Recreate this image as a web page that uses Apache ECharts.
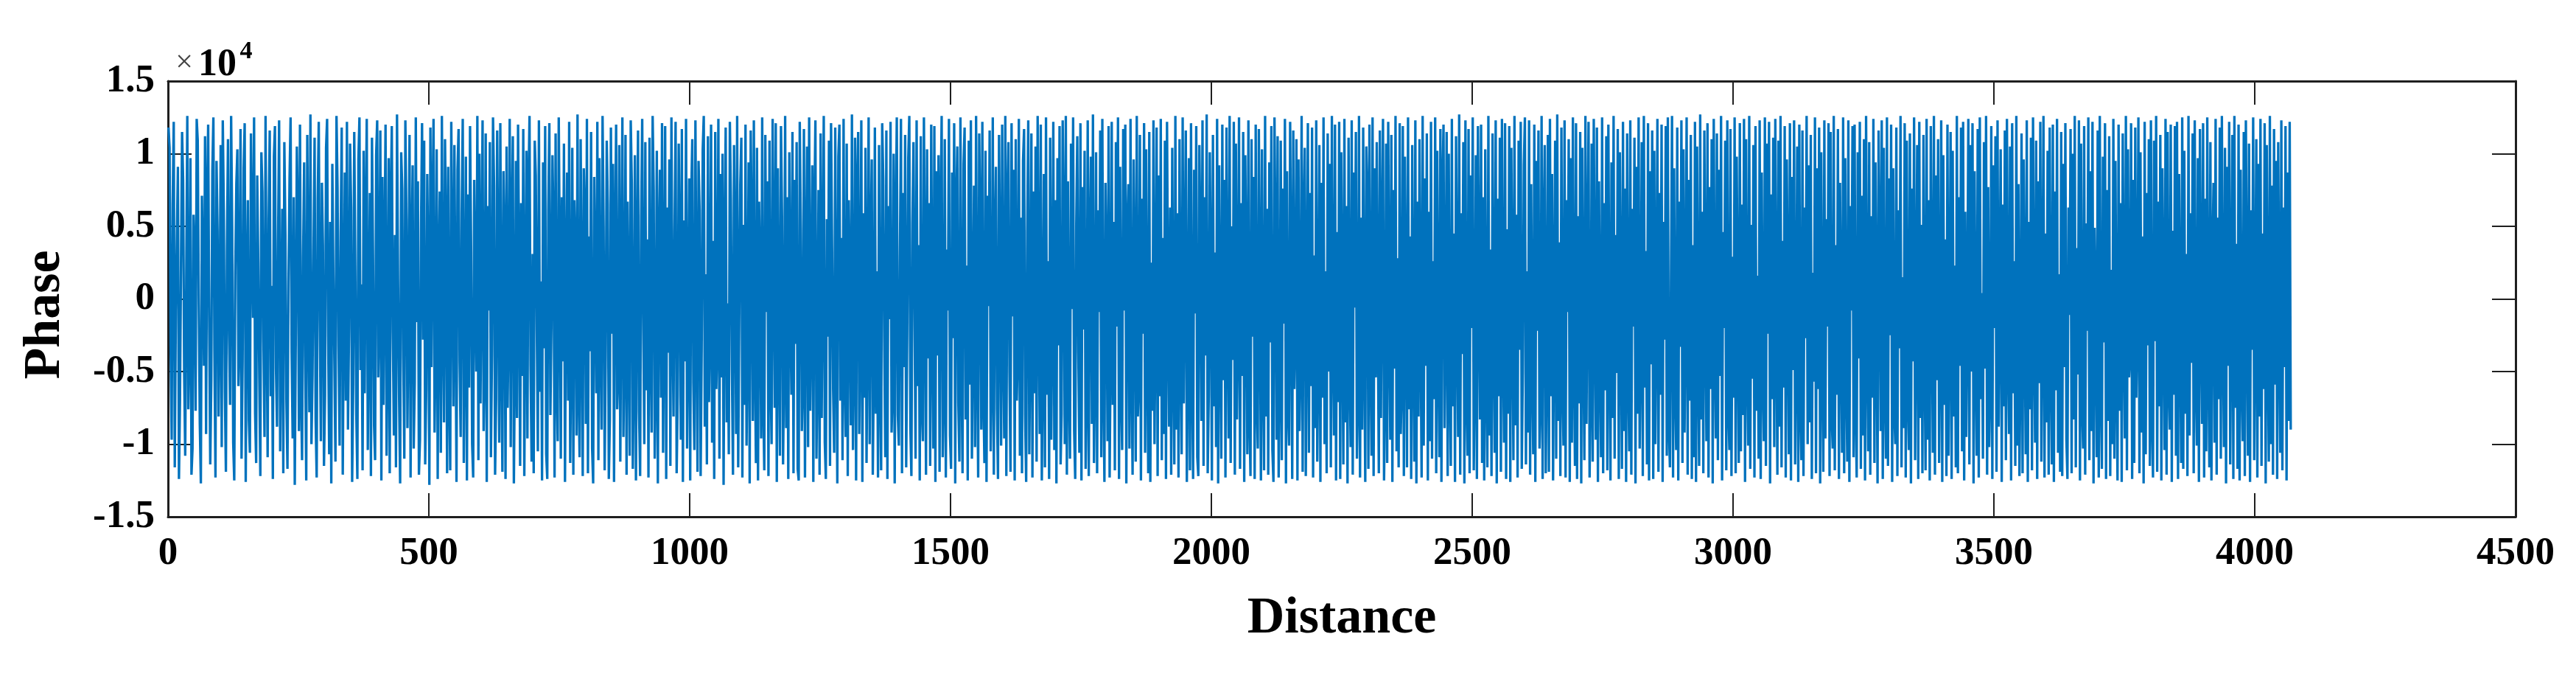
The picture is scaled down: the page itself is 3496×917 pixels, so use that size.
<!DOCTYPE html>
<html>
<head>
<meta charset="utf-8">
<script src="https://cdn.jsdelivr.net/npm/echarts@6/dist/echarts.min.js"></script>
<style>
html,body{margin:0;padding:0;background:#ffffff;}
#chart{width:3496px;height:917px;}
</style>
</head>
<body>
<div id="chart"></div>
<script>
// ---- data (values read/estimated from the picture) ----
const xTickValues = [0, 500, 1000, 1500, 2000, 2500, 3000, 3500, 4000, 4500];
const yTickLabels = ['-1.5', '-1', '-0.5', '0', '0.5', '1', '1.5'];
const sampleSpacing = 2; // distance between listed samples
const phase = [
11800,10400,-3200,-9700,6500,12200,-11600,-800,4300,9100,-12400,-6900,2700,11500,8200,-5100,-10800,1400,12600,-7600,
-2900,9700,-12100,-10300,5800,3100,-7700,12400,10900,-400,-8600,-12700,7100,2000,-4600,11200,-9300,6600,12000,-1900,
-11400,-5600,8800,12500,-3600,-12300,9500,4700,-8100,-1100,10600,-10200,12300,6100,-6400,-11900,3500,11000,-2400,-7300,
12600,5000,-9900,-12500,1800,7900,10300,-6000,-2700,11700,-11000,-4300,9000,12100,-12600,300,6800,-8400,-10600,11400,
4200,-1300,12500,-7900,-11300,8500,2500,-5500,-12200,10100,7400,-3000,-9500,12600,-700,-10900,5400,11600,-6700,900,
-12400,9800,11900,-4800,-8800,3900,12300,-10500,-1700,6200,-12000,10800,4600,-7100,-11700,1100,8300,12500,-3700,-9600,
7000,-12800,-2200,10500,5600,-9100,12000,-6300,-11100,2900,9400,-4000,-12500,11300,600,-7800,12700,-10000,-5200,3400,
11100,-8300,-12300,6900,12200,-1500,-9800,8000,3700,-11500,-6600,10400,12400,-2600,-10700,5300,-12700,9300,1600,-4500,
-11200,12600,7700,-3300,-10100,4500,11800,-12100,-500,8700,-7000,12200,-9000,-2000,10700,6300,-12600,-5900,11500,2300,
-8000,-12400,9600,12500,-4900,1000,-11800,10200,-6500,5100,12400,-10400,-1200,7300,-12200,11100,3000,-8700,-11100,9900,
12300,-5400,-900,11600,-12500,8400,-7300,2600,12000,-10800,-3500,9700,-12000,6700,11900,-2300,-9400,4400,-11600,12700,
1300,-6800,-12700,10100,7600,-4100,-11000,12300,5500,-8900,-600,11300,-12300,3200,9200,-10300,-5800,12500,-1600,8100,
-12100,-9700,4800,12100,-2800,10900,-11400,-6200,8600,1700,-12800,11800,-4700,6000,12400,-9200,-3100,10300,-12400,2100,
7400,-10600,12600,-1000,-8500,11000,4100,-12000,9100,-5700,-11800,12200,2800,-7400,10600,-300,-12600,8900,11700,-4400,
-9500,5900,12400,-11300,-2100,9800,-12500,7200,-6100,11900,3600,-10000,-12300,8200,500,-5000,12600,-11100,10000,-7200,
2000,12300,-9100,-4200,11400,-12600,6400,-800,10800,-10900,-3800,12500,7800,-12100,-6900,11600,1900,-9900,12100,-2500,
-11900,8800,4000,-12400,10500,-7500,-1400,12400,-10200,5200,11200,-12700,-3900,9500,-8200,12000,2400,-11500,6600,-5300,
11700,-12200,-700,10200,-9600,7700,12600,-4600,-11200,3100,-12000,10900,8500,-2200,-10500,12300,-6400,1200,-12500,9400,
-3400,11900,-10700,-12400,6100,12100,-8000,-1800,9900,4900,-12300,11400,-5600,-9800,12500,2700,-11000,7000,-4300,10700,
-12600,1500,8700,-7000,12200,-11300,-2900,10400,-12100,6800,3300,-9400,12700,-6000,-10900,11000,-600,-12200,9000,5700,
-8600,12400,-12000,4300,-3600,11500,-10300,-12700,8400,1400,-6500,12200,-11100,9700,-1900,-9000,12600,5000,-11800,-4000,
10900,6500,-12400,-8300,11800,-2400,9300,-12600,3800,12000,-7600,-5100,10600,-11200,1000,12500,-9500,-3200,11300,-12100,
6700,-900,-10800,12300,8000,-11700,-4500,9900,-12500,2200,11600,-7800,-12200,5600,12400,-1300,-10000,10800,-6300,4100,
-12300,11100,-2600,-9200,12600,7500,-11000,-5300,10200,-12700,3600,8900,-6800,12100,-10600,-700,11900,-12400,6300,-3700,
9600,-11500,12500,-1100,-8100,4600,12200,-12000,-6700,10700,2900,-9700,11700,-12600,5400,-4300,12400,-10300,-2000,8300,
-12500,7200,11000,-5800,-10400,12300,-400,-11900,9500,6100,-12200,-3300,10300,12600,-8800,1700,-11400,11200,-7100,-1600,
12000,-9900,4000,-12400,11500,-6200,-2800,12400,-11000,8600,-5400,10000,-12800,2500,11800,-8500,-300,-10700,12200,6900,
-4900,-12100,10600,3000,-9300,12600,-11600,-1500,7900,11100,-12300,5100,-7300,12000,-10100,-2300,9400,-12700,11600,4400,
-8400,12300,-3800,-11300,10400,-12500,6700,1200,-9600,12500,-6900,-11800,11300,-900,8100,-12200,10900,-4800,-10000,12400,
3100,-7500,12100,-12600,9000,-2100,-10800,11900,5800,-11400,-4200,12600,-8900,7000,-12400,10100,-600,-6600,11500,-12000,
8200,-3100,10800,-11700,-12500,12200,4900,-9100,-5600,11700,-12300,2000,10500,-10200,12500,-7700,-1000,9200,-12600,6000,
12300,-11000,-4000,7500,-12100,11400,-8200,1600,12600,-9900,-12400,5500,-2600,10900,-11500,12100,3500,-6300,-10600,11800,
-1800,-12700,9800,12000,-7000,4200,-11100,12400,-5000,-9500,10700,-12200,6800,800,-8700,12700,-10400,-3400,11100,-12500,
7600,11500,-9300,-2000,12300,-12600,5900,-6800,10400,-11300,-800,12500,-10000,3800,9600,-12100,-4600,11800,-7900,1900,
-12300,10600,-5300,-11800,12100,8300,-3000,-10900,11600,-12400,6400,-1400,12200,-9200,-6100,10000,-12700,4700,12500,-8000,
-10100,2800,12400,-12000,7300,-4700,11300,-11600,-2500,9700,12600,-8800,-12200,5200,10800,-600,-11000,12300,-6000,3700,
-12500,11200,-7400,-9800,12500,1100,-12100,10300,-4100,6600,-11500,12000,-1700,-10300,11900,-12600,8800,-3900,9900,-11900,
5700,12600,-10900,-6200,11000,-12300,3400,-800,12400,-9400,-11700,8700,-2700,12100,-12700,6200,10500,-7200,-11200,12500,
-4400,-12000,9300,11800,-8300,2300,-12500,10900,-5900,12300,-11000,-1900,7800,-10200,12600,-3600,-12300,11400,4900,-9000,
12200,-6400,-11300,10200,-12600,7100,-500,11600,-10500,-4900,12500,-12100,3900,9100,-7600,-12400,11300,1500,-10100,12000,
-2900,-9600,12600,-12200,6500,10800,-5100,-11900,12100,-1200,8900,-12500,11000,-7000,-3500,12400,-10800,5600,-12000,9500,
11700,-8000,-12600,4500,12300,-10700,-2200,11400,-12300,7400,-6500,10500,-11200,12600,700,-9300,12000,-12500,-4100,8600,
-11600,12500,-6600,2600,-12400,11100,-9700,-1500,12200,-10400,6800,-12700,9700,-3200,11900,-11400,-7900,12300,4300,-10000,
12600,-12100,8100,-5500,-11000,10700,-700,12500,-9100,-12400,5000,11200,-3700,-10600,12100,-12500,7700,-2100,10200,-11700,
-6100,12300,-12200,3300,9800,-8600,12700,-11300,-4600,10100,-12000,6100,-900,11600,-10900,12400,-5200,-12600,8000,2200,
-9800,11900,-12300,-3000,12200,-7300,5300,-11800,10800,-1900,12500,-12400,9100,-6300,-10400,11700,-800,12000,-12700,4800,
7900,-10300,12400,-4400,-12100,9600,1300,-11200,12600,-8100,-5800,11300,-12500,6900,-2400,12100,-10600,10300,-3300,-12000,
11500,-12600,2500,-7700,12300,-10000,-1300,11800,-12200,8500,-6700,12400,-11100,4200,-9300,10900,-12400,12200,-500,-8800,
6300,-12100,10400,-3600,-11400,12600,-9000,5900,-12300,11000,-2800,-10700,12500,-7200,1800,11600,-12600,-4000,9700,-11800,
12100,-5000,-12400,8900,-1000,11900,-10900,-12200,10600,4000,-8400,12300,-11500,7000,-3900,12700,-12000,-6600,10100,1600,
-12500,11300,-7400,3200,-10200,12400,-12700,9200,-2300,-11000,12000,-5600,8200,-12300,11800,-900,-9600,12600,-11300,5000,
-4200,12200,-12100,10700,-8300,-1600,12500,-11700,6600,-5300,11500,-12600,9900,2100,-10700,12300,-7800,-12200,11000,-2600,
8400,-12400,12000,-6900,-10300,11700,500,-12500,10300,-4500,-11800,12600,-8100,6200,-12100,9400,-3000,11900,-10400,-12600,
12500,3600,-9700,11200,-12300,-5100,10900,-11100,7600,-1700,12400,-12700,8800,-7500,-10100,12200,1400,-12400,11600,-6200,
-2100,11000,-12500,9600,-9100,-4100,12600,-11900,5400,10400,-12200,-800,12100,-10600,7300,-6000,11800,-12300,3000,-8900,
12300,-11200,-3400,10600,-12600,8000,-6800,12500,-10000,1900,-12000,11400,-5000,9300,-11600,12600,-2700,-9400,12000,-12500,
4600,-7100,12200,-12400,10100,-1100,-11400,12400,-8500,6400,-12700,11100,-4300,-10200,12300,-12100,8700,-600,11500,-11000,
-6500,12600,-12300,5600,-9000,11800,-2500,-12600,10500,7100,-11700,12000,-3700,-10800,12500,-12200,9000,-5400,10800,-1200,
-12000,11600,-8200,3500,12400,-12500,-6300,10700,-11300,12200,-1400,-9700,11300,-12600,7500,-4800,12600,-10500,2800,-11600,
12100,-9300,-5800,11900,-12200,9800,-300,-11600,12500,-7600,4300,-12400,10600,-2900,-11200,12300,-12700,6700,-8100,11000,
-1800,-12300,12600,-10100,8300,-4600,11400,-12500,6000,-9800,12200,-11000,2600,-6900,12500,-12000,10200,-3100,-10900,11700,
-12600,7800,12000,-8900,-1300,11500,-12200,10000,-5500,-11500,12400,-7400,4500,-12600,11200,-400,-9500,12700,-12100,5900,
-3800,10800,-12700,12300,-6400,-10800,11700,-12000,8500,-2000,12500,-11800,-4900,9900,-12400,11900,1200,-8300,12000,-11300,
7000,-12500,10300,-5200,-11600,12600,-9400,3400,-12200,11400,-1600,-10600,12300,-12700,6900,-6700,11100,-11900,12400,-2900,
-9900,12100,-12400,4800,-7900,11900,-12600,10400,-600,-11100,12600,-8700,5800,-12300,10900,-3500,12200,-11700,-5000,9200,
12500,-11400,1900,-9200,12300,-12100,7900,-4400,-10700,12000,-12600,9500,-2200,11600,-10300,-7000,12600,-12400,4100,10600,
-12000,-3900,11300,-11900,12400,-6700,8600,-12500,-1100,10900,-11000,12700,-8400,3900,-12200,11800,-5500,-10100,12300,-12300,
6800,-900,11000,-12600,9700,-9900,12500,-4200,-11500,12100,-12400,5700,-7200,11500,-12700,10400,-2600,-11100,12600,-8600,
2400,12200,-12300,-5900,10700,-11200,12400,-700,-9700,11800,-12600,8100,-3600,-10900,12500,-12000,6600,-6300,11200,-11800,
12000,-2300,-12500,9400,-8200,12600,-11000,4400,-5100,11700,-12400,10100,-1400,-11700,12200,-9100,7600,-12600,11400,-4700,
-10500,12300,-12100,6200,-1900,11100,-12700,9100,-7900,12500,-10300,-3000,10800,-12200,12600,-6100,3300,-11400,12100,-12500,
8800,-4500,11600,-12400,10200,-10000,-800,12400,-11900,7300,-6600,12000,-12600,5300,-2800,11900,-10800,12500,-8700,-11600,
1100,12600,-12300,9000,-5700,-10400,11800,-12500,6700,-3300,12300,-11300,10300,-9200,-1500,12500,-12100,8200,-7000,11300,
-12400,3700,-10900,12200,-12600,10500,-4100,-11500,12700,-8300,6000,-12000,11600,-500,-9800,12100,-12300,7700,-6200,11000,
-12700,12400,-3100,-9600,11400,-11100,8900,-5300,12600,-12500,4600,-2000,10900,-11800,12300,-7500,-10400,11700,-12200,2900,
-6800,12500,-12000,9800,-1200,-11300,12100,-10500,6500,-8000,12400,-12600,11000,-3800,-10100,12600,-11700,5100,-5500,10600,
-12300,11900,-7700,1600,-11000,12300,-12400,8700,-4700,-9800,12500,-11500,10700,-2400,12200,-12700,7200,-6900,11100,-10200,
12400,-1700,-12100,10900,-8800,12600,-11600,4000,-6100,11900,-12300,9600,-300,-10700,12100,-12500,8400,-4900,12300,-11400,
-3500,10500,-12600,12000,-7300,-11100,11600,-12200,6300,-2700,12600,-10000,9200,-8500,11300,-12400,1800,-5700,12500,-12000,
9000,-6200,11800,-12700,10100,-4200,-11900,12300,-9600,5500,-1900,12100,-12200,11500,-7900,-10300,12600,-11800,3700,-6600,
11700,-12400,8000,-2100,-10600,12500,-12000,9700,-5000,-11200,12300,-12600,6400,-800,11900,-10900,12000,-7200,-12300,10100,
-4100,12200,-11700,7100,-9400,11000,-12500,12600,-3000,-10500,10800,-12100,5700,-6800,12400,-11300,9400,-1600,-12700,11600,
3200,-9100,12300,-12400,10400,-5900,-11000,12500,-11500,8300,-2500,12000,-12600,9000,-7700,-10000,11800,-12200,6100,-3400,
12600,-11600,1500,-8900,12100,-12300,10900,-6400,-10400,11400,-12700,7600,-4300,12500,-11100,-1000,10600,-12400,12200,-8200,
5100,-12000,11300,-3200,-11800,12400,-9700,6800,-12500,11900,-600,-10600,12600,-12100,8500,-5600,11000,-11300,-2900,12300,
-12600,9900,-7300,4100,-12200,12000,-10800,-1700,11500,-12400,10200,-8100,2300,-11600,12600,-12000,7000,-4600,11800,-10500,
12200,-12500,6000,-9500,-1300,12400,-11400,10600,-5000,12100,-12700,8800,-3500,-10800,11700,-12300,12500,-6900,400,-11000,
10800,-4800,12600,-12100,7700,-10200,-6100,11900,-12400,9200,-2000,11200,-11900,12300,-8800,-500,10300,-12600,6500,-7400,
11600,-11100,12400,-3400,-9300,10500,-12500,12100,-6500,2600,-11500,12600,-10100,7900,-12200,-4300,11400,-12000,9600,-1400,
-10700,12300,-12600,5300,-7600,11100,-11800,12500,-2300,-9900,10900,-12400,8100,-5800,12200,-11200,-900,12600,-12300,4500,
-8500,10200,-12100,11800,-3700,-11400,12000,-12600,7400,-6300,12400,-10600,1700,-11900,11500,-12200,9300,-4700,12100,-9700,
-12400,6300,-1100,11700,-12000,10000,-8300,12600,-11600,3500,-5200,12300,-12500,10700,-7100,-10300,11900,-12100,5200,-2200,
12500,-11100,8800,-9100,12200,-12700,4900,-600,-10900,11600,-12300,12600,-6000,-11700,9800,-3000,12100,-12400,7500,-8400,
11200,-12200,2000,-10000,12400,-11000,9500,-4900,-12500,12000,-7700,6600,-12600,11400,-1500,-9600,12600,-11800,10300,-5400,
-3900,12100,-12400,8200,-11300,11800,-6800,-1800,12500,-12000,10100,-9200,4300,-12700,12200,-10700,7300,-3200,11000,-11500,
12300,-8000,-12300,10900,-2900,12600,-11900,6700,-7400,11300,-12500,9000,-500,-10400,12400,-12100,11500,-5700,-9000,12000,
-12600,4700,-6600,11900,-10800,12200,-12400,8600,-2100,-11300,12500,-11700,10200,-7900,3100,-12200,12600,-9400,5900,-4400,
11400,-12000,12300,-5300,-10100,9700,-12600,11700,-1300,-8600,12100,-12300,6900,-10500,12500,-3800,-11600,10800,-12500,2700,
8000,-9900,12400,-12100,5600,-6900,11800,-11000,12600,-2600,-10200,10400,-12700,9100,-4600,12200,-11400,-1200,11300,-12400,
12600,-7500,3800,-11700,12000,-12500,8900,-5100,-9800,11500,-12200,12300,-700,-10800,10700,-12600,6100,-3500,12500,-11100,
-2000,11000,-12300,9300,-8100,12400,-11500,4500,-6200,12100,-12700,10600,-3000,-11200,12600,-10000,7800,-12100,11700,-5900,
9500,-12400,10800,-1600,-10600,12300,-11800,6300,-4700,11900,-12500,8700,-8400,12200,-9000
];
const distance = phase.map((_, i) => 1 + i * sampleSpacing);
const seriesData = distance.map((d, i) => [d, phase[i]]);

// ---- styling ----
const AXIS_COLOR = '#1f1f1f';
const LINE_COLOR = '#0072BD';
const FONT = '"Liberation Serif", "Times New Roman", serif';

const tickLabelStyle = {
  fontFamily: FONT, fontWeight: 'bold', fontSize: 53, color: '#000'
};
const axisLineCfg = { show: true, onZero: false, lineStyle: { color: AXIS_COLOR, width: 3 } };
const axisTickCfg = { show: true, inside: true, length: 32, lineStyle: { color: AXIS_COLOR, width: 2 } };

const chart = echarts.init(document.getElementById('chart'), null, { renderer: 'canvas' });
chart.setOption({
  animation: false,
  backgroundColor: '#ffffff',
  grid: { left: 228, right: 82, top: 110, bottom: 216, containLabel: false },
  xAxis: [
    {
      type: 'value', position: 'bottom', min: xTickValues[0], max: xTickValues[xTickValues.length - 1],
      interval: xTickValues[1] - xTickValues[0],
      axisLine: axisLineCfg, axisTick: axisTickCfg, splitLine: { show: false },
      axisLabel: Object.assign({ margin: 24, formatter: (v) => String(v) }, tickLabelStyle)
    },
    {
      type: 'value', position: 'top', min: xTickValues[0], max: xTickValues[xTickValues.length - 1],
      interval: xTickValues[1] - xTickValues[0],
      axisLine: axisLineCfg, axisTick: axisTickCfg, splitLine: { show: false },
      axisLabel: { show: false }
    }
  ],
  yAxis: [
    {
      type: 'value', position: 'left', min: -15000, max: 15000, interval: 5000,
      axisLine: axisLineCfg, axisTick: axisTickCfg, splitLine: { show: false },
      axisLabel: Object.assign({
        margin: 18,
        formatter: (v) => yTickLabels[Math.round((v + 15000) / 5000)]
      }, tickLabelStyle)
    },
    {
      type: 'value', position: 'right', min: -15000, max: 15000, interval: 5000,
      axisLine: axisLineCfg, axisTick: axisTickCfg, splitLine: { show: false },
      axisLabel: { show: false }
    }
  ],
  series: [{
    type: 'line',
    xAxisIndex: 0, yAxisIndex: 0,
    data: seriesData,
    showSymbol: false,
    symbol: 'none',
    sampling: null,
    lineStyle: { color: LINE_COLOR, width: 3.3, join: 'bevel' },
    z: 1
  }],
  graphic: [
    {
      type: 'text', x: 1821, y: 840, z: 10,
      style: { text: 'Distance', font: 'bold 70px ' + FONT, fill: '#000', textAlign: 'center', textVerticalAlign: 'middle' }
    },
    {
      type: 'text', x: 62, y: 427, rotation: Math.PI / 2, z: 10,
      style: { text: 'Phase', font: 'bold 70px ' + FONT, fill: '#000', textAlign: 'center', textVerticalAlign: 'middle' }
    },
    {
      type: 'text', x: 250, y: 86, z: 10,
      style: { text: '\u00d7', font: '42px ' + FONT, fill: '#444', textAlign: 'center', textVerticalAlign: 'middle' }
    },
    {
      type: 'text', x: 295, y: 89, z: 10,
      style: { text: '10', font: 'bold 52px ' + FONT, fill: '#000', textAlign: 'center', textVerticalAlign: 'middle' }
    },
    {
      type: 'text', x: 334, y: 70, z: 10,
      style: { text: '4', font: 'bold 34px ' + FONT, fill: '#000', textAlign: 'center', textVerticalAlign: 'middle' }
    }
  ]
});
</script>
</body>
</html>
